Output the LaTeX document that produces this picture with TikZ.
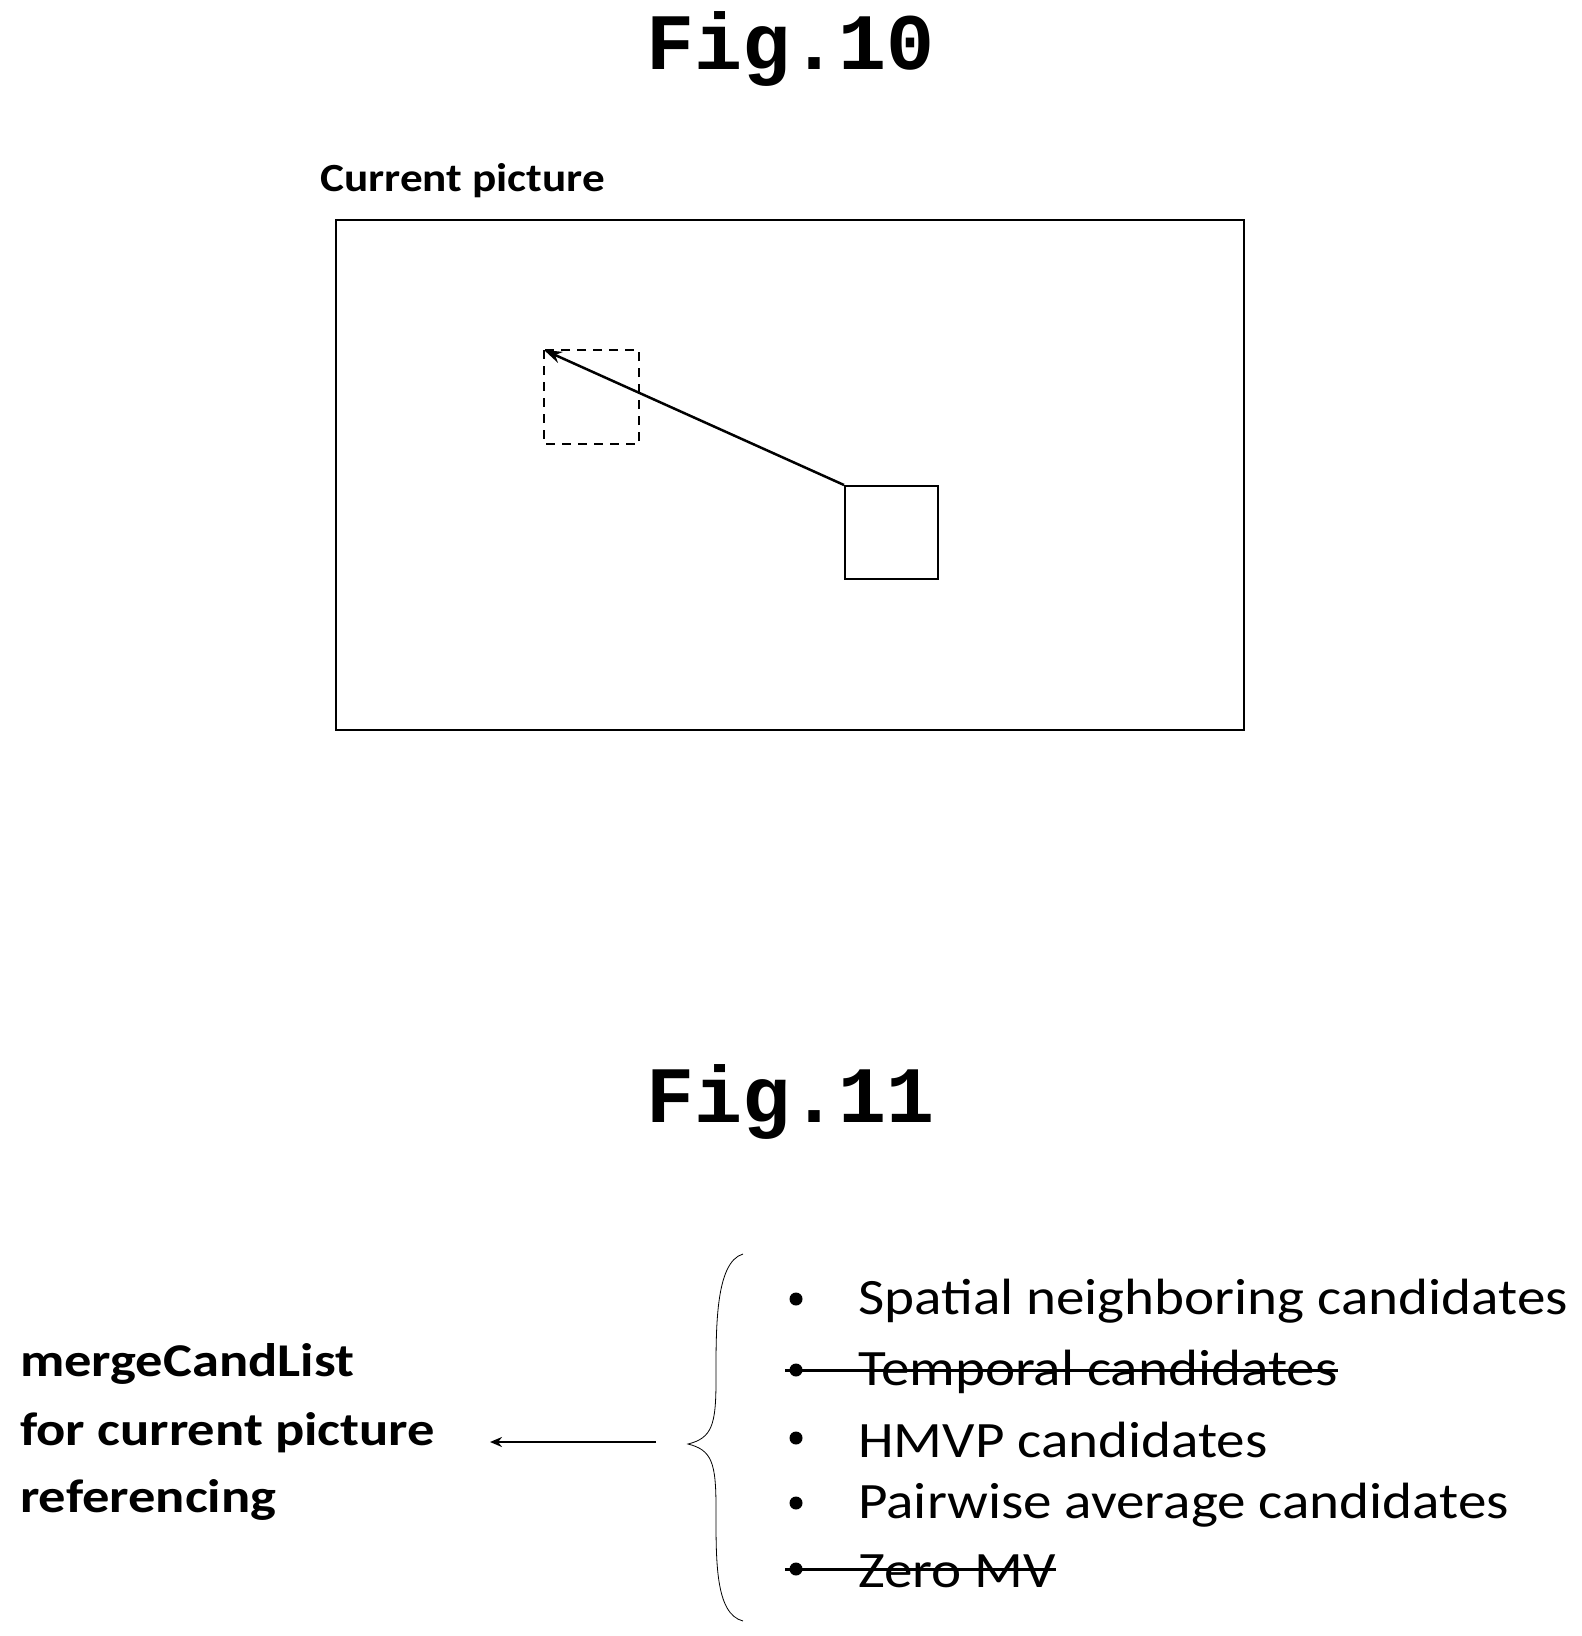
\documentclass[tikz,border=0pt]{standalone}
\usepackage{fontspec}
\setmainfont{Carlito}
\newfontfamily\monob{Liberation Mono}
\usetikzlibrary{arrows.meta}
\begin{document}
\begin{tikzpicture}[x=1pt,y=-1pt,
  fig/.style={font=\monob\bfseries\fontsize{80}{80}\selectfont},
  lbl/.style={font=\bfseries\fontsize{47}{50}\selectfont,anchor=west,inner sep=0,xscale=1.16},
  item/.style={font=\fontsize{51}{54}\selectfont,anchor=west,inner sep=0,xscale=1.12},
  bul/.style={circle,fill=black,inner sep=0,minimum size=13},
  strike/.style={line width=3}]
\useasboundingbox (0,0) rectangle (1582,1636);
\node[fig] (f10) at (791,49) {Fig.10};
\node[font=\bfseries\fontsize{40}{40}\selectfont,anchor=west,inner sep=0,xscale=1.13] (cp) at (320,181) {Current picture};
\draw[line width=1.8] (336,220) rectangle (1244,730);
\draw[line width=1.8,dashed,dash pattern=on 9 off 7] (544,350) rectangle (639,444);
\node[draw,line width=1.8,minimum size=93,inner sep=0,anchor=north west] (cur) at (844,485) {};
\coordinate (ref) at (544,350);
\draw[line width=2.5,-{Stealth[length=18,width=12]}] (cur.north west) -- (ref);
\node[fig] (f11) at (791,1102) {Fig.11};
\node[lbl] (m1) at (20,1364) {mergeCandList};
\node[lbl] (m2) at (20,1433) {for current picture};
\node[lbl] (m3) at (20,1500) {referencing};
\coordinate (as) at (656,1442);
\coordinate (ae) at (490,1442);
\draw[line width=2.5,-{Stealth[length=12,width=10]}] (as) -- (ae);
\draw[line width=0.8] (743,1254) .. controls (715,1262) and (716,1330) .. (716,1380)
  .. controls (716,1425) and (712,1438) .. (688,1444)
  .. controls (712,1450) and (716,1463) .. (716,1508)
  .. controls (716,1560) and (715,1614) .. (743,1621);
\foreach \y/\t/\n in {1301/Spatial neighboring candidates/i1,1372/Temporal candidates/i2,1440/HMVP candidates/i3,1505/Pairwise average candidates/i4,1571/Zero MV/i5}{
  \node[bul] at (796,\y-2) {};
  \node[item] (\n) at (858,\y) {\t};
}
\draw[strike] (785,1370) -- (i2.east |- 0,1370);
\draw[strike] (785,1569) -- (i5.east |- 0,1569);
\end{tikzpicture}
\end{document}
